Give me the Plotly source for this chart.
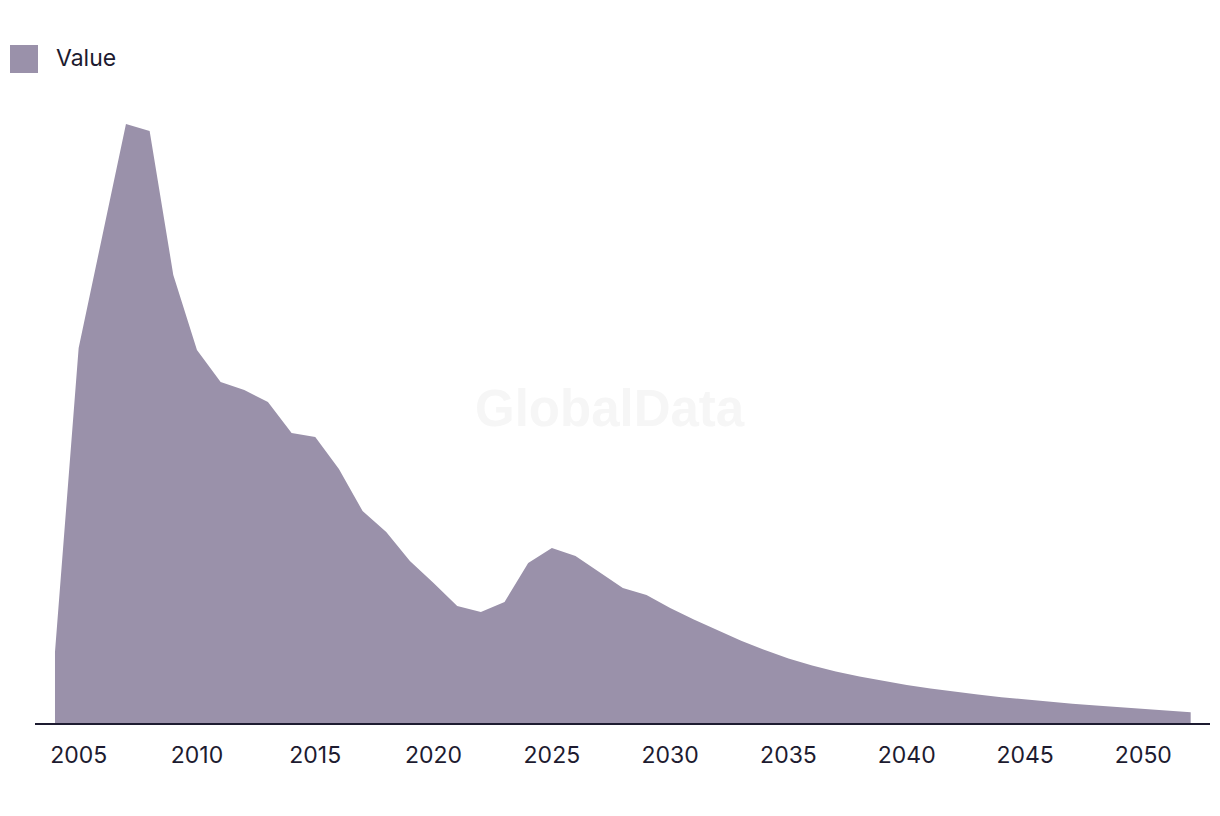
import plotly.graph_objects as go

years = list(range(2004, 2053))
values = [71, 375, 487, 599, 592, 448, 373, 341, 333, 321,
          290, 286, 254, 212, 191, 162, 140, 117, 111, 121,
          160, 175, 167, 151, 135, 128, 115, 103.5, 92.5, 82.3,
          73.0, 64.5, 57.5, 51.5, 46.5, 42.0, 38.0, 34.4, 31.2, 28.4,
          25.8, 23.5, 21.3, 19.3, 17.5, 15.8, 14.2, 12.5, 10.8]
tick_years = list(range(2005, 2051, 5))
tick_labels = [str(y) for y in tick_years]
series_name = "Value"

FILL = "#9a91aa"
INK = "#1d1b30"
W, H = 1220, 816
L, R, T, B = 35, 10, 100, 93
PW, PH = W - L - R, H - T - B

fig = go.Figure()
fig.add_trace(go.Scatter(
    x=years, y=values, name=series_name, mode="lines",
    fill="tozeroy", fillcolor=FILL, line=dict(width=0, color=FILL),
    showlegend=False, hoverinfo="x+y",
))

def px_x(p):
    return (p - L) / PW

def px_y(p):
    return (H - B - p) / PH

fig.add_shape(type="rect", xref="paper", yref="paper",
              x0=px_x(10), x1=px_x(38), y0=px_y(73), y1=px_y(45),
              fillcolor=FILL, line=dict(width=0))
fig.add_annotation(xref="paper", yref="paper", x=px_x(54), y=px_y(58),
                   text=series_name, showarrow=False, xanchor="left", yanchor="middle",
                   font=dict(family="Inter", size=23, color=INK))
fig.add_annotation(xref="paper", yref="paper", x=px_x(610), y=px_y(408),
                   text="<b>GlobalData</b>", showarrow=False,
                   xanchor="center", yanchor="middle",
                   font=dict(family="Liberation Sans", size=51, color="#f6f6f6"))

fig.update_layout(
    width=W, height=H,
    margin=dict(l=L, r=R, t=T, b=B),
    paper_bgcolor="white", plot_bgcolor="white",
    xaxis=dict(range=[2003.155, 2052.816], tickvals=tick_years, ticktext=tick_labels,
               showgrid=False, zeroline=False, showline=True, linecolor=INK, linewidth=2,
               ticks="outside", ticklen=10, tickcolor="rgba(0,0,0,0)",
               tickfont=dict(family="Inter", size=23, color=INK)),
    yaxis=dict(range=[0, PH], visible=False, showgrid=False, zeroline=False),
)

fig.write_html("out.html", config={"displayModeBar": False},
               post_script="document.body.style.margin='0';")
